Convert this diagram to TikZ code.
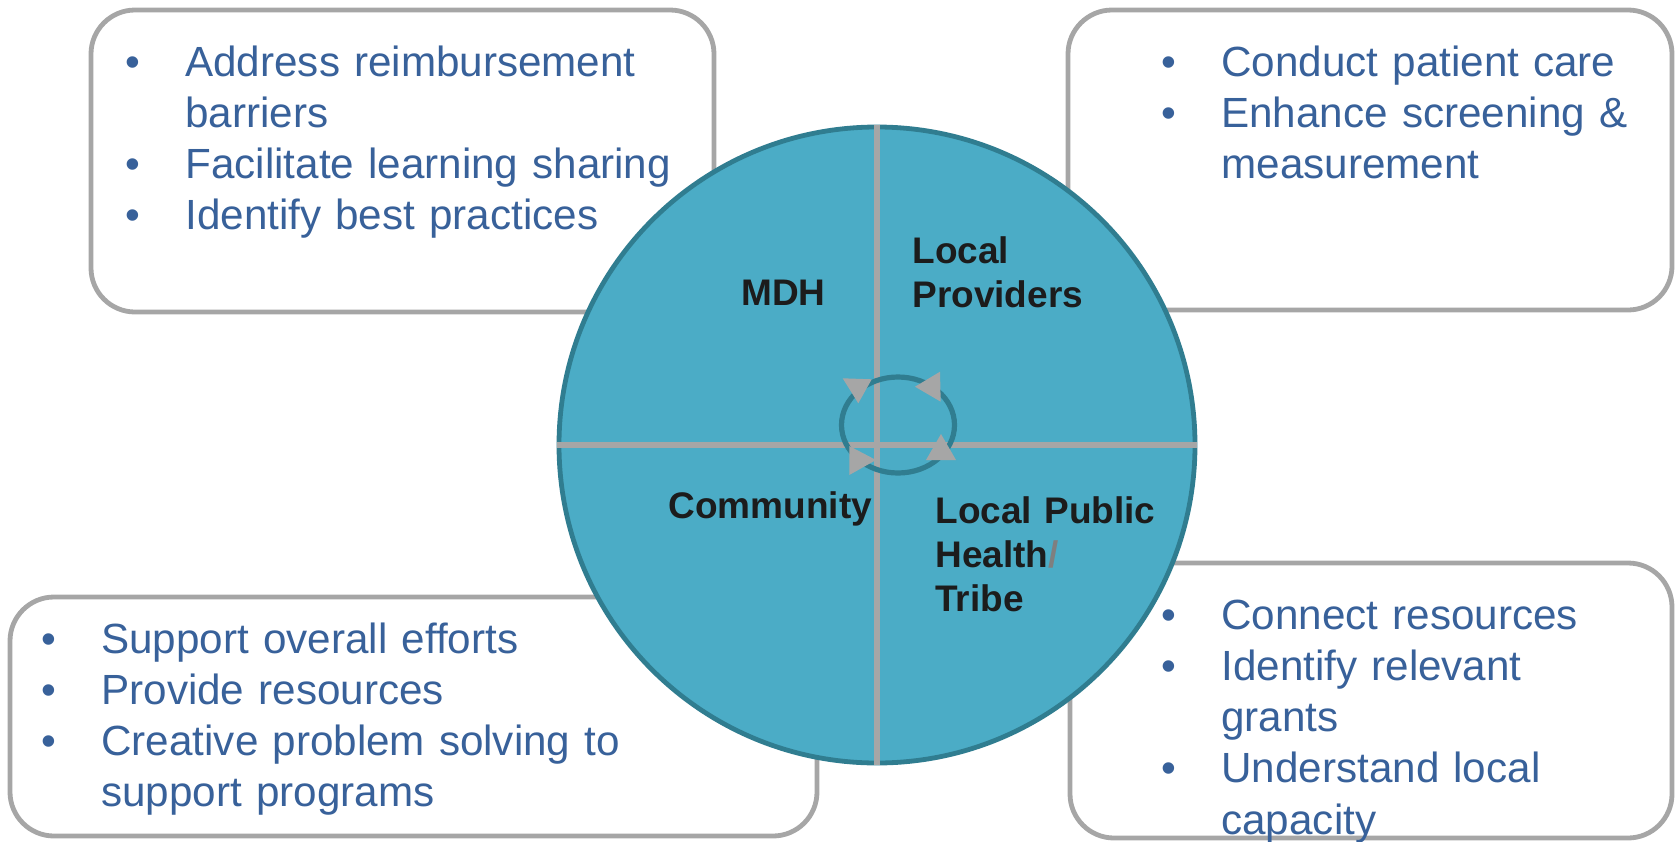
\documentclass[tikz,border=0pt]{standalone}
\usepackage{fontspec}
\setmainfont{Liberation Sans}
\usepackage{tikz}

\definecolor{hubfill}{HTML}{4BACC6}
\definecolor{hubedge}{HTML}{307D90}
\definecolor{linegray}{HTML}{A6A6A6}
\definecolor{taskblue}{HTML}{38619A}
\definecolor{labelink}{HTML}{1C1C1C}
\definecolor{slashgray}{HTML}{7F7F7F}

% bullet with hanging indent; each item ends with \par
\newcommand{\bul}{\noindent\hangindent=30pt\hangafter=1\makebox[30pt][l]{\textbullet}}

\tikzset{
  panel/.style={draw=linegray, line width=2.4pt, rounded corners=22pt, fill=white},
  tasks/.style={inner sep=0pt, anchor=base west, text width=330pt,
    text=taskblue, font=\raggedright\fontsize{21.1pt}{25.65pt}\selectfont},
  hub/.style={circle, draw=hubedge, line width=2.4pt, fill=hubfill, minimum size=318pt, inner sep=0pt},
  divider/.style={draw=linegray, line width=3pt},
  ring/.style={draw=hubedge, line width=2.6pt},
  turn/.style={fill=linegray},
  role/.style={inner sep=0pt, anchor=base west, text width=150pt, align=left,
    text=labelink, font=\bfseries\fontsize{18.5pt}{22pt}\selectfont}
}

\begin{document}
\begin{tikzpicture}[x=0.5pt,y=-0.5pt]
\useasboundingbox (0,0) rectangle (1675,841);

% four task panels
\draw[panel] (91,10) rectangle (714,312); % MDH
\draw[panel] (1068,10) rectangle (1672,310); % providers
\draw[panel] (10,597) rectangle (817,836); % community
\draw[panel] (1070,563) rectangle (1672,838); % public health

\node[tasks] (mdhtasks) at (125,76) {\bul Address reimbursement\newline barriers\par
  \bul Facilitate learning sharing\par
  \bul Identify best practices\par};
\node[tasks] (provtasks) at (1161,76) {\bul Conduct patient care\par
  \bul Enhance screening \&\newline measurement\par};
\node[tasks] (commtasks) at (41,653) {\bul Support overall efforts\par
  \bul Provide resources\par
  \bul Creative problem solving to\newline support programs\par};
\node[tasks] (lphtasks) at (1161,629) {\bul Connect resources\par
  \bul Identify relevant\newline grants\par
  \bul Understand local\newline capacity\par};

% central wheel
\node[hub] (hub) at (877,445) {};
\draw[divider] (hub.north) -- (hub.south);
\draw[divider] (hub.west) -- (hub.east);

\draw[ring] (898,425) ellipse [x radius=28.25pt, y radius=24pt];
\fill[turn] (842.7,378.3) -- (871.7,379.3) -- (858.3,403.3) -- cycle;
\fill[turn] (915,386.7) -- (940,371.7) -- (940.7,401.7) -- cycle;
\fill[turn] (849.3,446) -- (849.3,475) -- (876,460) -- cycle;
\fill[turn] (926,460) -- (956,460) -- (941,434) -- cycle;

\node[role] (mdh) at (741,305) {MDH};
\node[role] (prov) at (912,263) {Local\newline Providers};
\node[role] (comm) at (668,518) {Community};
\node[role] (lph) at (935,523) {Local Public\newline Health{\color{slashgray}/}\newline Tribe};

\end{tikzpicture}
\end{document}
